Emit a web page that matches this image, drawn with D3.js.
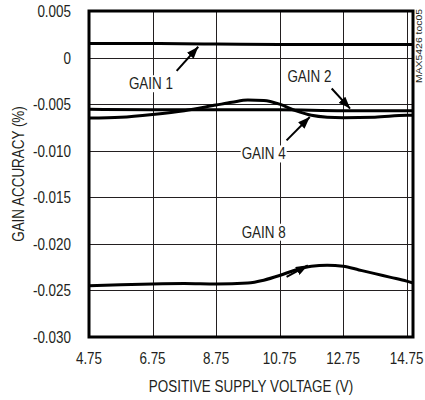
<!DOCTYPE html>
<html>
<head>
<meta charset="utf-8">
<script src="https://cdn.jsdelivr.net/npm/d3@7"></script>
<style>
  body { margin: 0; background: #fff; }
  svg text {
    font-family: "Liberation Sans", Arial, sans-serif;
    font-size: 17px;
    fill: #231f20;
  }
</style>
</head>
<body>
<svg width="425" height="400"></svg>
<script>
// supply voltage (V) sample points
const gain1V = [4.75, 6.75, 8.75, 10.75, 12.75, 14.95];
const gain1 = [0.0015, 0.0015, 0.00145, 0.0014, 0.0014, 0.0014];

const gain2V = [4.75, 6.75, 8.75, 10.75, 12.75, 14.95];
const gain2 = [-0.00555, -0.0056, -0.0056, -0.0056, -0.0057, -0.0057];

const gain4V = [4.75, 5.75, 6.75, 7.75, 8.75, 9.25, 9.75, 10.25, 10.75, 11.25, 11.75, 12.25, 12.75, 13.75, 14.75, 14.95];
const gain4 = [-0.0065, -0.0064, -0.0061, -0.0057, -0.0051, -0.0048, -0.00455, -0.0046, -0.0050, -0.0057, -0.0062, -0.0064, -0.00645, -0.0064, -0.0062, -0.0062];

const gain8V = [4.75, 5.75, 6.75, 7.75, 8.75, 9.75, 10.25, 10.75, 11.25, 11.75, 12.25, 12.75, 13.25, 13.75, 14.25, 14.75, 14.95];
const gain8 = [-0.0245, -0.0244, -0.0243, -0.02425, -0.0243, -0.0242, -0.0239, -0.0234, -0.0228, -0.0224, -0.0223, -0.0224, -0.0228, -0.0232, -0.0236, -0.0240, -0.0242];

const xTicks = [4.75, 6.75, 8.75, 10.75, 12.75, 14.75];
const xTickLabels = ["4.75", "6.75", "8.75", "10.75", "12.75", "14.75"];
const yTicks = [0.005, 0, -0.005, -0.010, -0.015, -0.020, -0.025, -0.030];
const yTickLabels = ["0.005", "0", "-0.005", "-0.010", "-0.015", "-0.020", "-0.025", "-0.030"];

// curve labels: text anchor point and arrow tail/head, all in data units
const labelNames = ["GAIN 1", "GAIN 2", "GAIN 4", "GAIN 8"];
const labelAt = [[6.70, -0.0034], [11.69, -0.00265], [10.25, -0.01094], [10.25, -0.01934]];
const arrowFrom = [[7.51, -0.00143], [12.39, -0.00332], [10.97, -0.00889], [10.97, -0.02355]];
const arrowTo = [[8.19, 0.00116], [12.97, -0.00548], [11.70, -0.00638], [11.64, -0.0223]];

const svg = d3.select("svg");
const margin = { top: 11, right: 12, bottom: 63, left: 89 };
const W = 425, H = 400;

const x = d3.scaleLinear().domain([4.75, 14.95]).range([margin.left, W - margin.right]);
const y = d3.scaleLinear().domain([-0.030, 0.005]).range([H - margin.bottom, margin.top]);

// squeeze text to look like a condensed face (no narrow font installed)
function narrow(sel) {
  sel.each(function () {
    const len = this.getComputedTextLength();
    d3.select(this)
      .attr("textLength", len * 0.79)
      .attr("lengthAdjust", "spacingAndGlyphs");
  });
  return sel;
}

// grid
const grid = svg.append("g").attr("stroke", "#231f20").attr("stroke-width", 1);
grid.selectAll("line.v")
  .data(xTicks.slice(1))
  .enter().append("line")
  .attr("x1", d => Math.round(x(d)) + 0.5).attr("x2", d => Math.round(x(d)) + 0.5)
  .attr("y1", y(0.005)).attr("y2", y(-0.030));
grid.selectAll("line.h")
  .data(yTicks)
  .enter().append("line")
  .attr("y1", d => Math.round(y(d)) + 0.5).attr("y2", d => Math.round(y(d)) + 0.5)
  .attr("x1", x(4.75)).attr("x2", x(14.95));

// curves
const line = d3.line()
  .x(d => x(d[0]))
  .y(d => y(d[1]))
  .curve(d3.curveMonotoneX);

const series = [
  d3.zip(gain1V, gain1),
  d3.zip(gain2V, gain2),
  d3.zip(gain4V, gain4),
  d3.zip(gain8V, gain8),
];

svg.append("g").selectAll("path")
  .data(series)
  .enter().append("path")
  .attr("d", line)
  .attr("fill", "none")
  .attr("stroke", "#000")
  .attr("stroke-width", 3);

// frame
svg.append("rect")
  .attr("x", x(4.75)).attr("y", y(0.005))
  .attr("width", x(14.95) - x(4.75))
  .attr("height", y(-0.030) - y(0.005))
  .attr("fill", "none")
  .attr("stroke", "#000")
  .attr("stroke-width", 3);

// tick labels
svg.append("g").selectAll("text")
  .data(xTicks)
  .enter().append("text")
  .attr("x", d => x(d))
  .attr("y", 364)
  .attr("text-anchor", "middle")
  .text((d, i) => xTickLabels[i])
  .call(narrow);

svg.append("g").selectAll("text")
  .data(yTicks)
  .enter().append("text")
  .attr("x", 71)
  .attr("y", d => y(d))
  .attr("dy", "0.35em")
  .attr("text-anchor", "end")
  .text((d, i) => yTickLabels[i])
  .call(narrow);

// axis titles
svg.append("text")
  .attr("x", (x(4.75) + x(14.95)) / 2)
  .attr("y", 392)
  .attr("text-anchor", "middle")
  .text("POSITIVE SUPPLY VOLTAGE (V)")
  .call(narrow);

svg.append("text")
  .attr("transform", `translate(24,${(y(0.005) + y(-0.030)) / 2}) rotate(-90)`)
  .attr("text-anchor", "middle")
  .text("GAIN ACCURACY (%)")
  .call(narrow);

svg.append("text")
  .attr("transform", "translate(422,9) rotate(-90)")
  .attr("text-anchor", "end")
  .attr("textLength", 74)
  .attr("lengthAdjust", "spacingAndGlyphs")
  .style("font-size", "9px")
  .text("MAX5426 toc05");

// arrow marker
svg.append("defs").append("marker")
  .attr("id", "head")
  .attr("viewBox", "0 0 12 9")
  .attr("refX", 12).attr("refY", 4.5)
  .attr("markerWidth", 12).attr("markerHeight", 9)
  .attr("markerUnits", "userSpaceOnUse")
  .attr("orient", "auto")
  .append("path")
  .attr("d", "M0,0 L12,4.5 L0,9 Z")
  .attr("fill", "#000");

// labels with white backing, then arrows
const ann = svg.append("g");
labelNames.forEach((name, i) => {
  const t = ann.append("text")
    .attr("x", x(labelAt[i][0]))
    .attr("y", y(labelAt[i][1]))
    .attr("text-anchor", "middle")
    .text(name)
    .call(narrow);
  const b = t.node().getBBox();
  ann.insert("rect", () => t.node())
    .attr("x", b.x - 1).attr("y", b.y + 1)
    .attr("width", b.width + 2).attr("height", b.height - 2)
    .attr("fill", "#fff");
  ann.append("line")
    .attr("x1", x(arrowFrom[i][0])).attr("y1", y(arrowFrom[i][1]))
    .attr("x2", x(arrowTo[i][0])).attr("y2", y(arrowTo[i][1]))
    .attr("stroke", "#000")
    .attr("stroke-width", 2)
    .attr("marker-end", "url(#head)");
});
</script>
</body>
</html>
